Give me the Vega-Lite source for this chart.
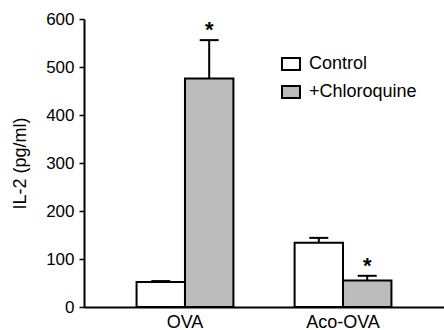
{
  "$schema": "https://vega.github.io/schema/vega-lite/v6.json",
  "width": 360,
  "height": 288,
  "autosize": {"type": "none"},
  "padding": {"left": 84, "top": 19, "right": 0, "bottom": 23},
  "background": "white",
  "config": {
    "view": {"stroke": null},
    "font": "Liberation Sans",
    "axis": {"grid": false, "domainColor": "black", "domainWidth": 2, "tickColor": "black", "labelColor": "black", "titleColor": "black", "labelFont": "Liberation Sans", "titleFont": "Liberation Sans"}
  },
  "data": {
    "values": [
      {"group": "OVA", "treatment": "Control", "value": 52, "upper": 54, "star": ""},
      {"group": "OVA", "treatment": "+Chloroquine", "value": 476, "upper": 556, "star": "*"},
      {"group": "Aco-OVA", "treatment": "Control", "value": 134, "upper": 144, "star": ""},
      {"group": "Aco-OVA", "treatment": "+Chloroquine", "value": 55, "upper": 65, "star": "*"}
    ]
  },
  "encoding": {
    "x": {
      "field": "group", "type": "nominal", "sort": ["OVA", "Aco-OVA"],
      "scale": {"paddingInner": 0, "paddingOuter": 0.139},
      "axis": {"title": null, "ticks": false, "labelAngle": 0, "labelFontSize": 18, "labelPadding": 6}
    },
    "xOffset": {
      "field": "treatment", "type": "nominal", "sort": ["Control", "+Chloroquine"],
      "scale": {"paddingInner": 0, "paddingOuter": 0.632}
    }
  },
  "layer": [
    {
      "mark": {"type": "rule", "stroke": "black", "strokeWidth": 2},
      "encoding": {
        "y": {"field": "value", "type": "quantitative"},
        "y2": {"field": "upper"}
      }
    },
    {
      "mark": {"type": "tick", "orient": "horizontal", "size": 19, "thickness": 2, "color": "black", "opacity": 1},
      "encoding": {
        "y": {"field": "upper", "type": "quantitative"}
      }
    },
    {
      "mark": {"type": "bar", "stroke": "black", "strokeWidth": 2},
      "encoding": {
        "y": {
          "field": "value", "type": "quantitative",
          "scale": {"domain": [0, 600], "nice": false},
          "axis": {"title": "IL-2 (pg/ml)", "titleFontSize": 18, "titleFontWeight": "normal", "titlePadding": 16, "labelFontSize": 17, "labelPadding": 5, "tickSize": 5, "tickWidth": 1.5, "values": [0, 100, 200, 300, 400, 500, 600]}
        },
        "fill": {
          "field": "treatment", "type": "nominal", "sort": ["Control", "+Chloroquine"],
          "scale": {"domain": ["Control", "+Chloroquine"], "range": ["white", "#bcbcbc"]},
          "legend": {
            "title": null, "orient": "none", "legendX": 197, "legendY": 35,
            "symbolType": "M-1,-0.67H1V0.67H-1Z", "symbolSize": 324,
            "symbolStrokeColor": "black", "symbolStrokeWidth": 2,
            "labelFontSize": 18, "labelColor": "black", "labelOffset": 8, "rowPadding": 6
          }
        }
      }
    },
    {
      "mark": {"type": "text", "fontSize": 22, "fontWeight": "bold", "dy": -10, "baseline": "middle", "color": "black"},
      "encoding": {
        "y": {"field": "upper", "type": "quantitative"},
        "text": {"field": "star"}
      }
    }
  ]
}
